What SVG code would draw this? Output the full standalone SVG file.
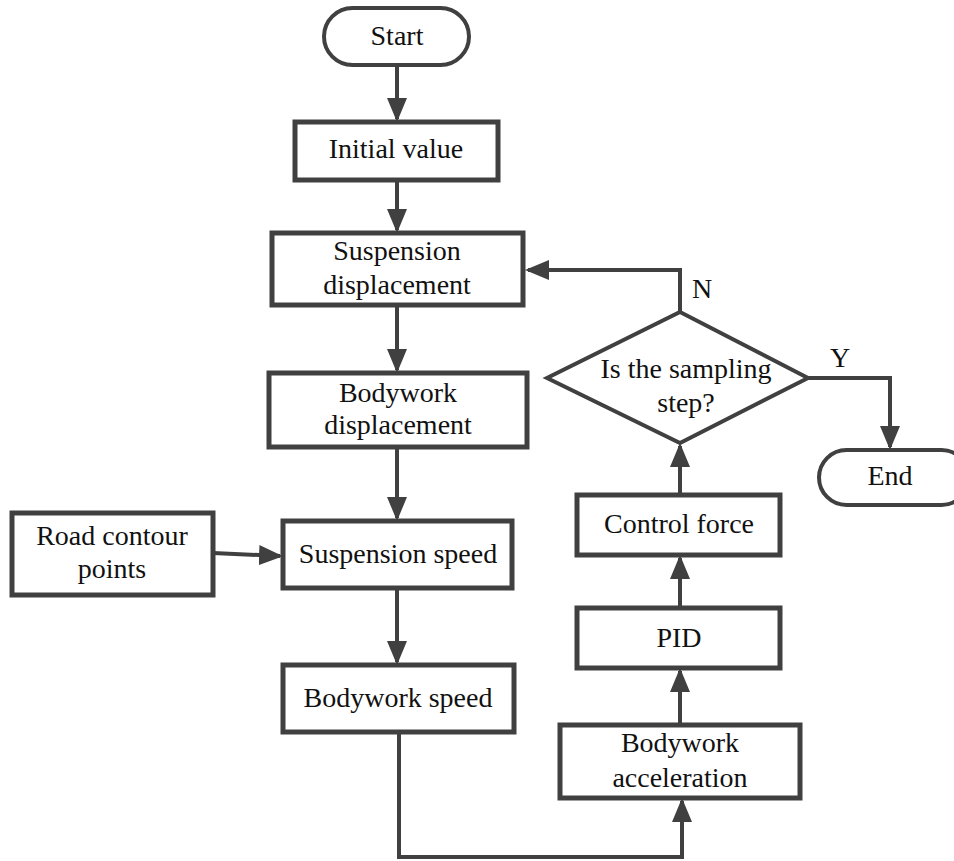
<svg xmlns="http://www.w3.org/2000/svg" width="954" height="861" viewBox="0 0 954 861">
<style>
.box{fill:#fff;stroke:#404040;stroke-width:5}
.term{fill:#fff;stroke:#404040;stroke-width:4}
.line{fill:none;stroke:#404040;stroke-width:4}
text{font-size:28px;fill:#111;text-anchor:middle}
</style>
<defs>
<marker id="ah" markerUnits="userSpaceOnUse" markerWidth="24" markerHeight="20" refX="21" refY="10" orient="auto">
<path d="M0,0 L24,10 L0,20 z" fill="#404040"/>
</marker>
</defs>
<g font-family="'Liberation Serif', 'DejaVu Serif', serif">
<g id="connectors">
<line class="line" x1="397" y1="65" x2="397" y2="119" marker-end="url(#ah)"/>
<line class="line" x1="397" y1="180" x2="397" y2="230" marker-end="url(#ah)"/>
<line class="line" x1="397" y1="305" x2="397" y2="370" marker-end="url(#ah)"/>
<line class="line" x1="397" y1="447" x2="397" y2="518" marker-end="url(#ah)"/>
<line class="line" x1="213" y1="553" x2="280" y2="556" marker-end="url(#ah)"/>
<line class="line" x1="397" y1="588" x2="397" y2="662" marker-end="url(#ah)"/>
<polyline class="line" points="399,732 399,857 682,857 682,801" marker-end="url(#ah)"/>
<line class="line" x1="680" y1="725" x2="680" y2="671" marker-end="url(#ah)"/>
<line class="line" x1="680" y1="608" x2="680" y2="558" marker-end="url(#ah)"/>
<line class="line" x1="680" y1="495" x2="680" y2="446" marker-end="url(#ah)"/>
<polyline class="line" points="680,312 680,270 528,270" marker-end="url(#ah)"/>
<polyline class="line" points="808,378 890,378 890,447" marker-end="url(#ah)"/>
<text x="702" y="298">N</text>
<text x="840" y="367">Y</text>
</g>
<g id="start">
<rect class="term" x="324" y="8" width="145" height="57" rx="28.5"/>
<text x="397" y="45">Start</text>
</g>
<g id="initial">
<rect class="box" x="295" y="122" width="203" height="58"/>
<text x="396" y="158">Initial value</text>
</g>
<g id="susp-disp">
<rect class="box" x="272" y="233" width="251" height="72"/>
<text x="397" y="260">Suspension</text>
<text x="397" y="294">displacement</text>
</g>
<g id="body-disp">
<rect class="box" x="269" y="373" width="258" height="74"/>
<text x="398" y="402">Bodywork</text>
<text x="398" y="434">displacement</text>
</g>
<g id="road">
<rect class="box" x="12" y="513" width="201" height="82"/>
<text x="112" y="545">Road contour</text>
<text x="112" y="578">points</text>
</g>
<g id="susp-speed">
<rect class="box" x="283" y="521" width="229" height="67"/>
<text x="398" y="563">Suspension speed</text>
</g>
<g id="body-speed">
<rect class="box" x="283" y="665" width="231" height="67"/>
<text x="398" y="707">Bodywork speed</text>
</g>
<g id="body-acc">
<rect class="box" x="560" y="725" width="240" height="73"/>
<text x="680" y="752">Bodywork</text>
<text x="680" y="787">acceleration</text>
</g>
<g id="pid">
<rect class="box" x="577" y="608" width="203" height="60"/>
<text x="679" y="647">PID</text>
</g>
<g id="control">
<rect class="box" x="577" y="495" width="203" height="60"/>
<text x="679" y="533">Control force</text>
</g>
<g id="decision">
<polygon class="term" points="680,312 808,378 680,443 547,378"/>
<text x="686" y="378">Is the sampling</text>
<text x="686" y="412">step?</text>
</g>
<g id="end">
<rect class="term" x="819" y="450" width="150" height="55" rx="27.5"/>
<text x="890" y="485">End</text>
</g>
</g>
</svg>
